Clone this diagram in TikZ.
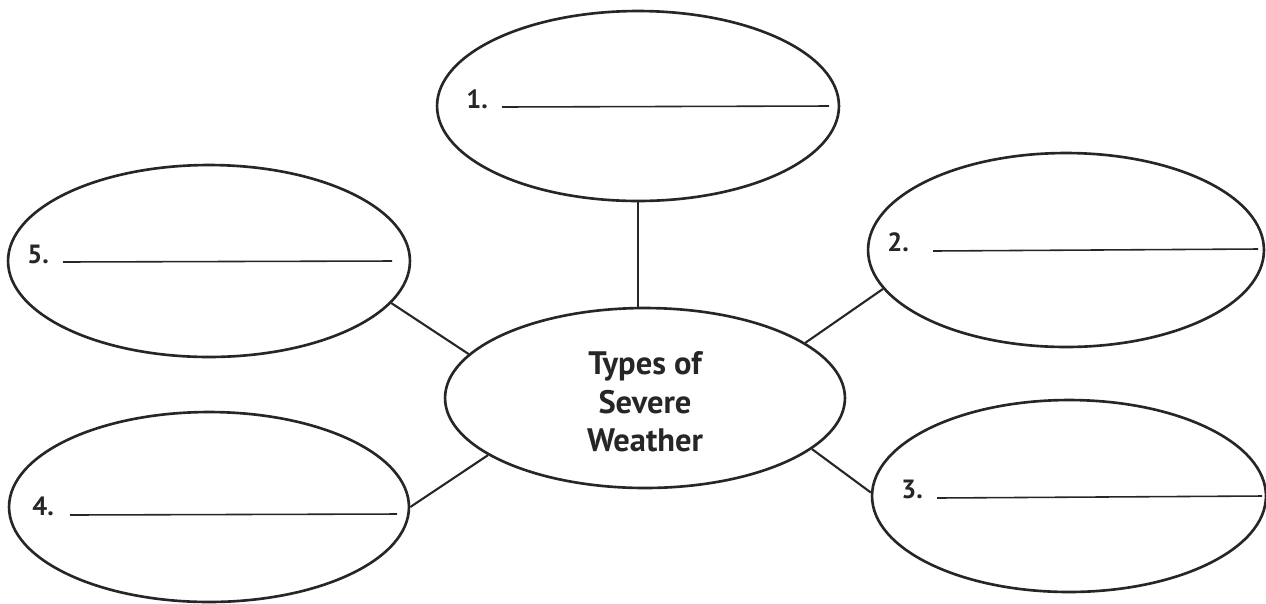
\documentclass[tikz,border=0pt]{standalone}
\usepackage{fontspec}
\setmainfont{PT Sans}
\usetikzlibrary{shapes.geometric}
\begin{document}
\begin{tikzpicture}[x=0.02cm,y=-0.02cm,
  bubble/.style={draw=black!85, line width=1.5pt, ellipse, inner sep=0pt},
  link/.style={draw=black!85, line width=1.2pt},
  blank/.style={draw=black!85, line width=0.9pt},
  num/.style={anchor=base west, inner sep=0pt, font=\bfseries\fontsize{15}{17}\selectfont, text=black!85},
  hub/.style={font=\bfseries\fontsize{18.5}{21.8}\selectfont, align=center, text=black!85}]
\useasboundingbox (0,0) rectangle (1266,603);
\node[bubble, minimum width=8.04cm, minimum height=3.8cm] (e1) at (638,106) {};
\node[bubble, minimum width=8.04cm, minimum height=3.84cm] (e5) at (209,261) {};
\node[bubble, minimum width=7.92cm, minimum height=3.88cm] (e2) at (1066,250) {};
\node[bubble, minimum width=8.0cm, minimum height=3.6cm] (c) at (645,398) {};
\node[hub] (ct) at (645,402) {Types of\\Severe\\Weather};
\node[bubble, minimum width=8.0cm, minimum height=3.8cm] (e4) at (209,507) {};
\node[bubble, minimum width=7.88cm, minimum height=3.84cm] (e3) at (1069,496) {};
% connectors
\draw[link] (e1.south) -- (e1.south |- c.north);
\draw[link] (e5.-13) -- (c.166);
\draw[link] (e4.0) -- (c.200);
\draw[link] (c.19) -- (e2.192);
\draw[link] (c.-17.5) -- (e3.179);
% labels and blanks
\node[num] (n1) at (466,108) {1.};
\draw[blank] (502,107) -- (829,106);
\node[num] (n5) at (27,263) {5.};
\draw[blank] (63,262) -- (392,261);
\node[num] (n2) at (887,251) {2.};
\draw[blank] (933,251) -- (1258,249);
\node[num] (n4) at (32,515) {4.};
\draw[blank] (70,515) -- (397,514);
\node[num] (n3) at (901,498) {3.};
\draw[blank] (937,498) -- (1262,496);
\end{tikzpicture}
\end{document}
